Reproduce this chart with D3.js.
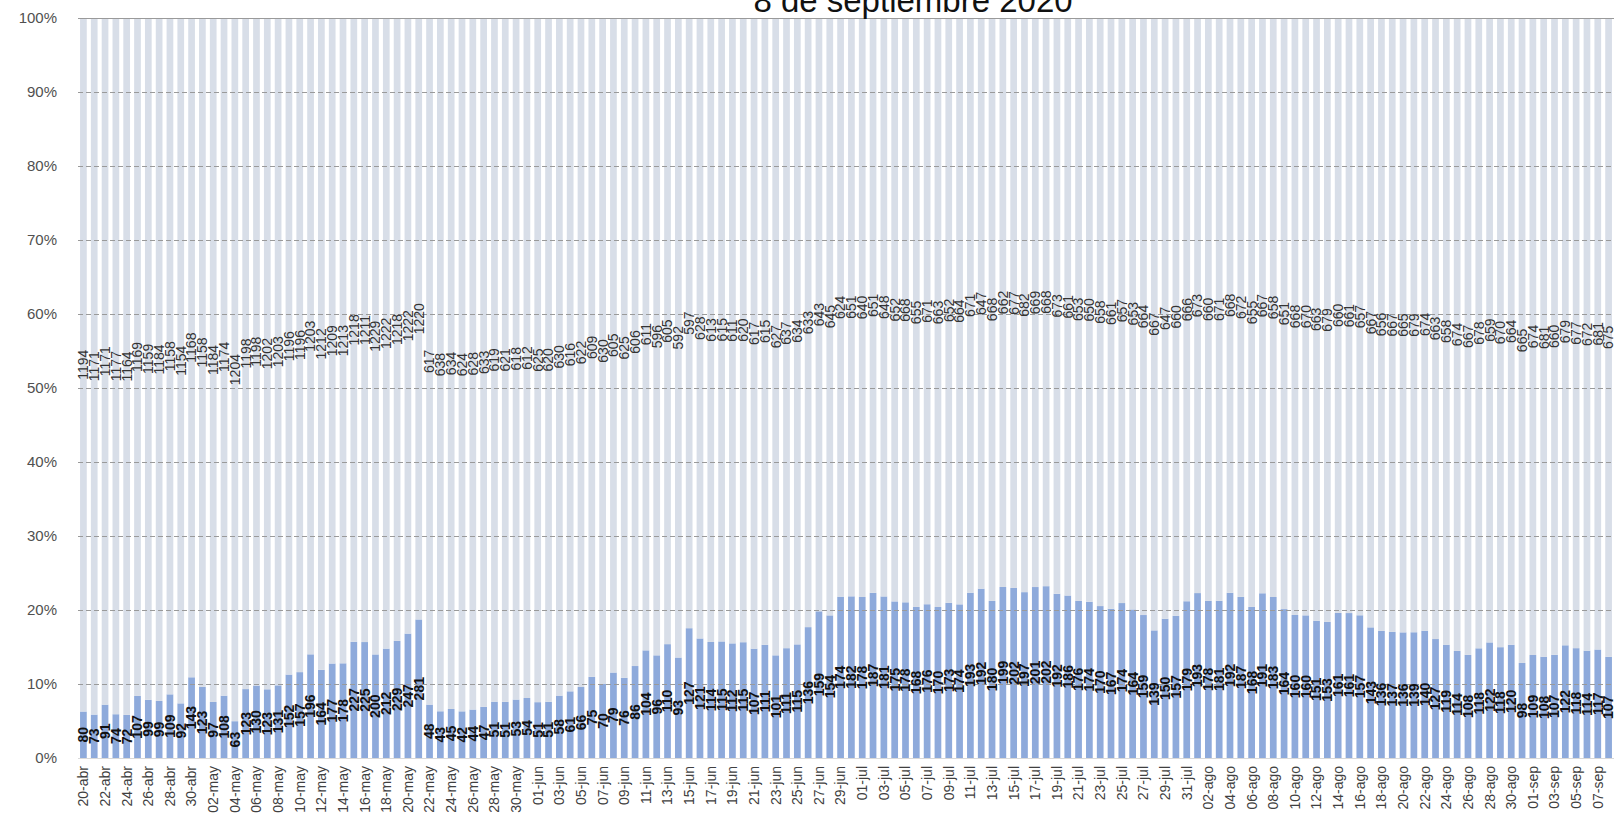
<!DOCTYPE html>
<html>
<head>
<meta charset="utf-8">
<script src="https://cdn.jsdelivr.net/npm/d3@7"></script>
<style>
  html, body { margin: 0; padding: 0; background: #fff; overflow: hidden; }
  svg { display: block; font-family: "Liberation Sans", Arial, sans-serif; }
</style>
</head>
<body>
<svg id="chart" width="1614" height="837"></svg>
<script>
// Camas ocupadas (azul) y libres (gris) por día, 20-abr a 08-sep
const ocupadas = [
  80,73,91,74,72,107,99,99,109,92,143,123,97,108,63,123,130,123,131,152,
  157,196,164,177,178,227,225,200,212,229,247,281,
  48,43,45,42,44,47,51,51,53,54,51,51,58,61,
  66,75,70,79,76,86,104,96,110,93,127,121,114,115,112,
  115,107,111,101,111,115,136,159,154,174,
  182,178,187,181,175,178,168,176,170,173,
  174,193,192,180,199,202,197,201,202,192,
  186,176,174,170,167,174,164,159,139,150,
  157,179,193,178,181,192,187,168,191,183,
  164,160,160,151,153,161,161,157,143,136,
  137,136,139,140,127,119,114,108,118,122,
  118,120,98,109,108,107,122,118,114,117,107
];
const libres = [
  1194,1171,1171,1177,1164,1169,1159,1184,1158,1154,1168,1158,1184,1174,1204,1198,
  1198,1202,1203,1196,1196,1203,1212,1209,1213,1218,1211,1229,1222,1218,1222,1220,
  617,638,634,624,628,633,619,621,618,612,625,620,630,616,
  622,609,630,605,625,606,611,596,605,592,597,628,613,615,611,
  620,617,615,627,637,634,633,643,645,624,
  651,640,651,648,652,668,655,671,663,652,
  664,671,647,668,662,677,682,669,668,673,
  661,653,650,658,661,657,653,664,667,647,
  660,666,673,660,671,668,672,655,667,658,
  651,668,670,663,679,660,661,657,667,656,
  667,665,679,674,663,658,674,667,678,659,
  670,664,665,674,681,660,679,677,672,681,675
];
const meses = ["ene","feb","mar","abr","may","jun","jul","ago","sep","oct","nov","dic"];
const yTicks = [0,0.1,0.2,0.3,0.4,0.5,0.6,0.7,0.8,0.9,1];
const titulo = "8 de septiembre 2020";

// categorías: un día por barra
const dias = d3.timeDay.range(new Date(2020,3,20), new Date(2020,8,9));
const fechas = dias.map(d => d3.timeFormat("%d")(d) + "-" + meses[d.getMonth()]);

const data = fechas.map((f, i) => ({fecha: f, ocupadas: ocupadas[i], libres: libres[i]}));
const series = d3.stack().keys(["ocupadas","libres"]).offset(d3.stackOffsetExpand)(data);

const svg = d3.select("#chart");
const margin = {top: 18, right: 0, bottom: 79, left: 78};
const width = 1614, height = 837;
const innerBottom = height - margin.bottom;

const x = d3.scaleBand()
  .domain(fechas)
  .range([margin.left, width - margin.right])
  .paddingInner(0.38)
  .paddingOuter(0.19);

const y = d3.scaleLinear()
  .domain([0, 1])
  .range([innerBottom, margin.top]);

const colores = {ocupadas: "#8eaadb", libres: "#d8dee8"};

// barras apiladas al 100%
svg.append("g").selectAll("g")
  .data(series)
  .join("g")
    .attr("fill", s => colores[s.key])
  .selectAll("rect")
  .data(s => s)
  .join("rect")
    .attr("x", d => x(d.data.fecha))
    .attr("y", d => y(d[1]))
    .attr("width", x.bandwidth())
    .attr("height", d => y(d[0]) - y(d[1]));

// líneas de cuadrícula
const grid = svg.append("g")
  .attr("transform", `translate(${margin.left},0)`)
  .call(d3.axisLeft(y).tickValues(yTicks.slice(1)).tickSize(-(width - margin.left)).tickFormat(""));
grid.select(".domain").remove();
grid.selectAll(".tick line")
  .attr("stroke", "#9a9a9a")
  .attr("stroke-width", 1)
  .attr("stroke-dasharray", d => d === 1 ? null : "5,3");

// eje Y
const yAxis = svg.append("g")
  .attr("transform", `translate(${margin.left - 18},0)`)
  .call(d3.axisLeft(y).tickValues(yTicks).tickSize(0).tickFormat(d3.format(".0%")));
yAxis.select(".domain").remove();
yAxis.selectAll("text")
  .attr("font-size", 15)
  .attr("fill", "#505050")
  .attr("font-family", "Liberation Sans, Arial, sans-serif");

// eje X
svg.append("line")
  .attr("x1", margin.left).attr("x2", width)
  .attr("y1", innerBottom + 0.5).attr("y2", innerBottom + 0.5)
  .attr("stroke", "#d9d9d9");

const xAxis = svg.append("g")
  .attr("transform", `translate(0,${innerBottom})`)
  .call(d3.axisBottom(x).tickValues(fechas.filter((d, i) => i % 2 === 0)).tickSize(0));
xAxis.select(".domain").remove();
xAxis.selectAll("text")
  .attr("font-size", 14)
  .attr("fill", "#404040")
  .attr("font-family", "Liberation Sans, Arial, sans-serif")
  .attr("text-anchor", "end")
  .attr("dy", "0.35em")
  .attr("transform", "translate(0,8) rotate(-90)")
  .attr("x", 0)
  .attr("y", 0);

// etiquetas de datos
svg.append("g").selectAll("g")
  .data(series)
  .join("g")
  .selectAll("text")
  .data(s => s.map(d => ({d, key: s.key})))
  .join("text")
    .attr("transform", ({d}) => `translate(${x(d.data.fecha) + x.bandwidth() / 2},${y((d[0] + d[1]) / 2)}) rotate(-90)`)
    .attr("text-anchor", "middle")
    .attr("dy", "0.35em")
    .attr("font-size", 14)
    .attr("font-weight", ({key}) => key === "ocupadas" ? "bold" : "normal")
    .attr("fill", ({key}) => key === "ocupadas" ? "#111" : "#333")
    .text(({d, key}) => d.data[key]);

// título (recortado arriba)
svg.append("text")
  .attr("x", 913)
  .attr("y", 12)
  .attr("text-anchor", "middle")
  .attr("font-size", 33)
  .attr("fill", "#111")
  .text(titulo);
</script>
</body>
</html>
